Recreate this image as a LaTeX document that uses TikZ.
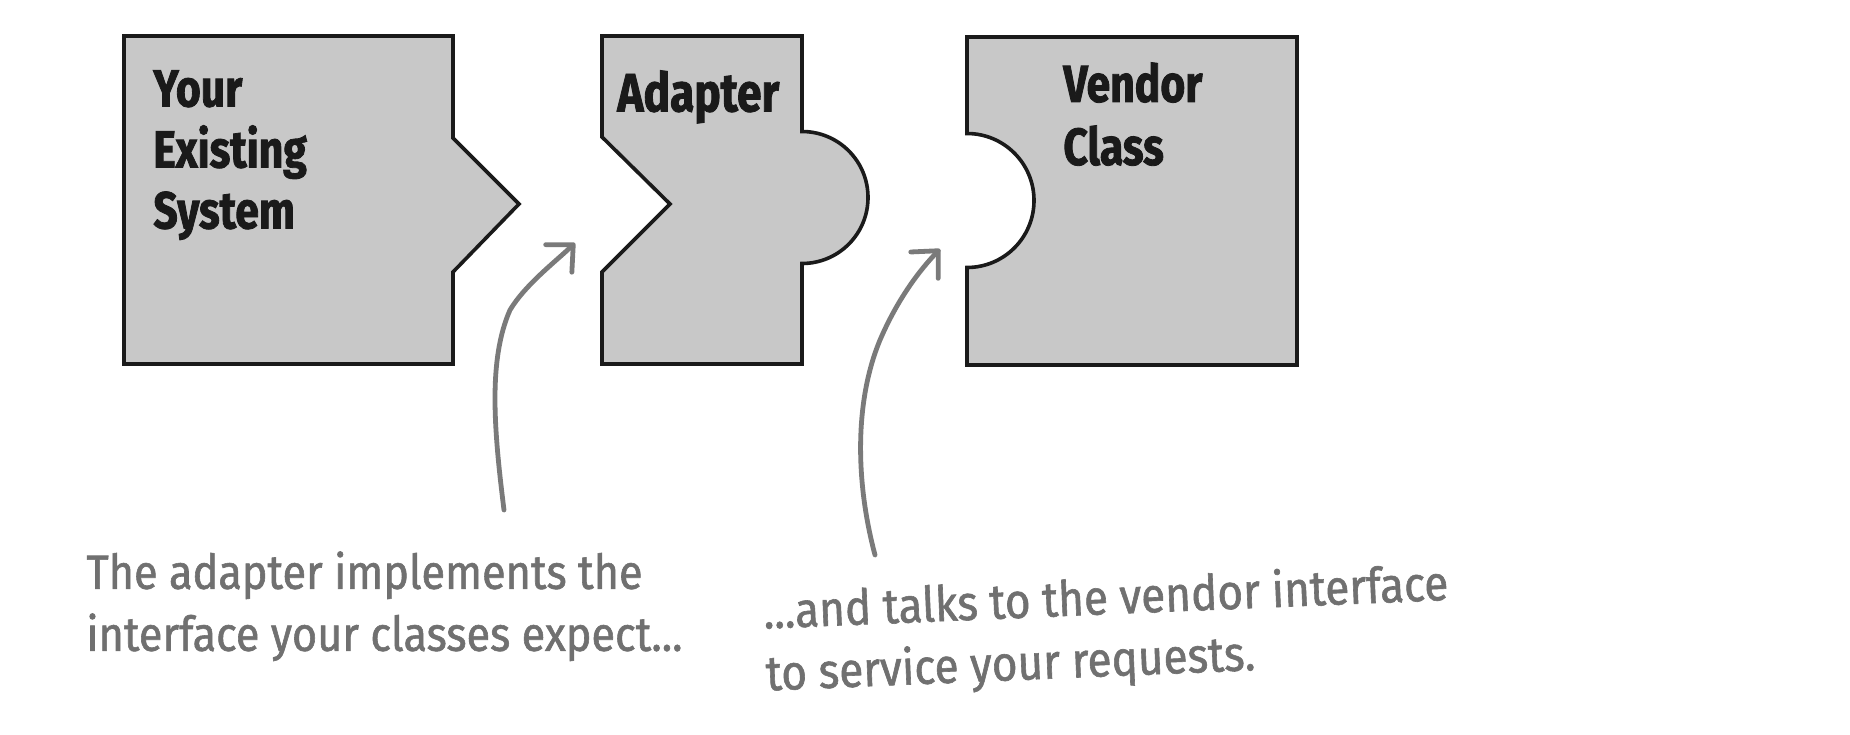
\documentclass[tikz,border=0pt]{standalone}
\usepackage{fontspec}
\usetikzlibrary{arrows.meta}
\newfontfamily\titlefont{Fira Sans}[FakeStretch=0.82,FakeBold=1.6]
\newfontfamily\notefont{Fira Sans}[FakeStretch=0.9,FakeBold=1.2]
\definecolor{piecefill}{HTML}{C8C8C8}
\definecolor{pieceline}{HTML}{1A1A1A}
\definecolor{notegray}{HTML}{707070}
\definecolor{pointergray}{HTML}{7A7A7A}
\begin{document}
\begin{tikzpicture}[x=0.5pt,y=-0.5pt,
  piece/.style={fill=piecefill,draw=pieceline,line width=1.8pt,line join=miter},
  titletext/.style={anchor=north west,inner sep=0pt,align=left,text=pieceline},
  notetext/.style={anchor=north west,inner sep=0pt,align=left,text=notegray},
  pointer/.style={draw=pointergray,line width=2.4pt,line cap=round,
    -{Straight Barb[length=10pt,width=19pt,round]}}]
\useasboundingbox (0,0) rectangle (1850,734);
\fill[white] (0,0) rectangle (1850,734);
% Your Existing System
\draw[piece] (124,36) -- (453,36) -- (453,138) -- (519,204) -- (453,272)
  -- (453,364) -- (124,364) -- cycle;
% Adapter
\draw[piece] (602,36) -- (802,36) -- (802,131.5)
  .. controls (838.5,131.5) and (868,161) .. (868,197.5)
  .. controls (868,234) and (838.5,263.5) .. (802,263.5)
  -- (802,364) -- (602,364) -- (602,272) -- (670,204) -- (602,137) -- cycle;
% Vendor Class
\draw[piece] (967,37) -- (1297,37) -- (1297,365) -- (967,365) -- (967,267.5)
  .. controls (1004,267.5) and (1034,237.5) .. (1034,200.5)
  .. controls (1034,163.5) and (1004,133.5) .. (967,133.5) -- cycle;
% titles
\node[titletext,font=\titlefont\bfseries\fontsize{26}{30.5}\selectfont] (existing) at (153,70) {Your\\Existing\\System};
\node[titletext,font=\titlefont\bfseries\fontsize{27}{31}\selectfont] (adapter) at (617,70) {Adapter};
\node[titletext,font=\titlefont\bfseries\fontsize{26}{31.5}\selectfont] (vendor) at (1063,62) {Vendor\\Class};
% notes
\node[notetext,font=\notefont\fontsize{24}{31}\selectfont] (note1) at (86,551)
  {The adapter implements the\\interface your classes expect...};
\node[notetext,rotate=2.4,font=\notefont\fontsize{24.5}{31}\selectfont] (note2) at (762,590)
  {...and talks to the vendor interface\\to service your requests.};
% pointers
\coordinate (p1s) at (504,510);
\coordinate (p1e) at (575,243);
\coordinate (p2s) at (875,555);
\coordinate (p2e) at (940,249);
\draw[pointer] (p1s) .. controls (494,430) and (488,360) .. (510,310)
  .. controls (525,285) and (555,262) .. (p1e);
\draw[pointer] (p2s) .. controls (855,480) and (855,400) .. (880,340)
  .. controls (895,305) and (915,275) .. (p2e);
\end{tikzpicture}
\end{document}
